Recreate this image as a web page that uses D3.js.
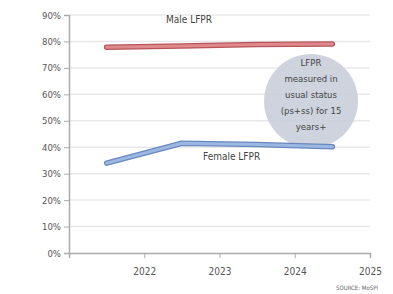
<!DOCTYPE html>
<html>
<head>
<meta charset="utf-8">
<script src="https://cdn.jsdelivr.net/npm/d3@7"></script>
<style>
  body { margin: 0; background: #fff; }
  text { font-family: "Liberation Sans Narrow", "DejaVu Sans Condensed", sans-serif; }
</style>
</head>
<body>
<svg id="chart" width="393" height="294"></svg>
<script>
let years = [2021.5, 2022.5, 2023.5, 2024.5];
let maleLFPR = [77.8, 78.3, 78.8, 79.0];
let femaleLFPR = [34.0, 41.5, 41.0, 40.2];
let yTicks = [0, 10, 20, 30, 40, 50, 60, 70, 80, 90];
let xTicks = [2021, 2022, 2023, 2024, 2025];
let noteLines = ["LFPR", "measured in", "usual status", "(ps+ss) for 15", "years+"];

let svg = d3.select("#chart");
let x = d3.scaleLinear().domain([2021, 2025]).range([69, 370]);
let y = d3.scaleLinear().domain([0, 90]).range([253, 15]);

// grid
svg.append("g")
  .selectAll("line")
  .data(yTicks.slice(1))
  .join("line")
  .attr("x1", 69).attr("x2", 370)
  .attr("y1", d => y(d)).attr("y2", d => y(d))
  .attr("stroke", "#e8e8e8").attr("stroke-width", 1.5);

// y axis
let yAxis = svg.append("g")
  .attr("transform", "translate(69,0)")
  .call(d3.axisLeft(y).tickValues(yTicks).tickFormat(d => d + "%").tickSize(5));
yAxis.select(".domain").attr("stroke", "#aaa").attr("stroke-width", 1.5);
yAxis.selectAll(".tick line").attr("stroke", "#aaa");
yAxis.selectAll(".tick text").attr("fill", "#555").attr("font-size", 9.5).attr("x", -8);

// x axis
let xAxis = svg.append("g")
  .attr("transform", "translate(0,253)")
  .call(d3.axisBottom(x).tickValues(xTicks).tickFormat(d => d === 2021 ? "" : d).tickSize(5));
xAxis.select(".domain").attr("stroke", "#aaa").attr("stroke-width", 1.5);
xAxis.selectAll(".tick line").attr("stroke", "#aaa");
xAxis.selectAll(".tick text").attr("fill", "#555").attr("font-size", 10).attr("y", 15);

// circle note
let note = svg.append("g");
note.append("circle")
  .attr("cx", 311).attr("cy", 101).attr("r", 47)
  .attr("fill", "#c9ceda").attr("opacity", 0.9);
note.selectAll("text")
  .data(noteLines)
  .join("text")
  .attr("x", 311)
  .attr("y", (d, i) => 66 + i * 16)
  .attr("text-anchor", "middle")
  .attr("font-size", 9.5)
  .attr("fill", "#444")
  .text(d => d);

// lines
let line = d3.line().x((d, i) => x(years[i])).y(d => y(d));
function drawSeries(vals, dark, light) {
  svg.append("path").attr("d", line(vals))
    .attr("fill", "none").attr("stroke", dark).attr("stroke-width", 5.5)
    .attr("stroke-linejoin", "round").attr("stroke-linecap", "round");
  svg.append("path").attr("d", line(vals))
    .attr("fill", "none").attr("stroke", light).attr("stroke-width", 3)
    .attr("stroke-linejoin", "round").attr("stroke-linecap", "round");
}
drawSeries(maleLFPR, "#b8555a", "#e0898c");
drawSeries(femaleLFPR, "#6a88bd", "#9bb8e3");

// labels
svg.append("text").attr("x", 166).attr("y", 23)
  .attr("font-size", 10).attr("fill", "#444").text("Male LFPR");
svg.append("text").attr("x", 203).attr("y", 160)
  .attr("font-size", 10).attr("fill", "#444").text("Female LFPR");
svg.append("text").attr("x", 336).attr("y", 290)
  .attr("font-size", 6).attr("fill", "#666").text("SOURCE: MoSPI");
</script>
</body>
</html>
